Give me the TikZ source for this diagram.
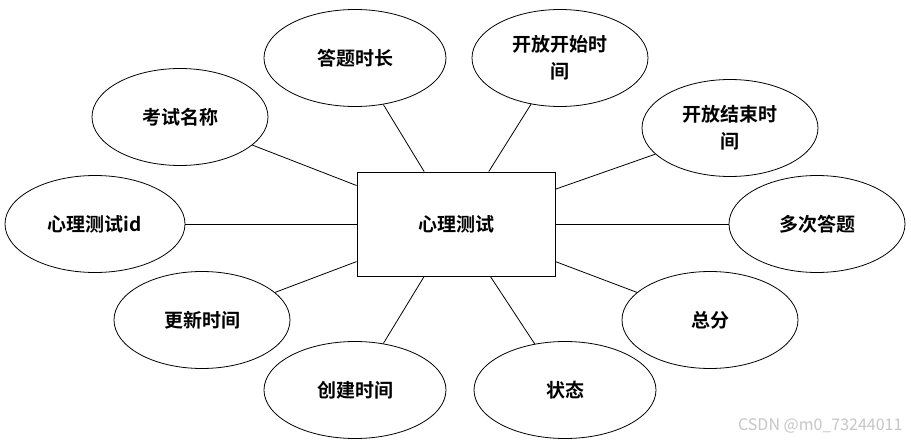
\documentclass[tikz,border=0pt]{standalone}
\usepackage{fontspec}
\setmainfont{Noto Sans CJK SC}[BoldFont={Noto Sans CJK SC Bold}]
\usetikzlibrary{shapes.geometric}
\begin{document}
\begin{tikzpicture}[x=1pt,y=-1pt,
  attr/.style={draw,thick,ellipse,minimum width=#1,minimum height=97pt,inner sep=0pt,align=center,font=\bfseries\fontsize{19}{27}\selectfont},
  attr/.default=176pt,
  ent/.style={draw,thick,minimum width=198pt,minimum height=104pt,font=\bfseries\fontsize{19}{24}\selectfont},
  conn/.style={thick}]
\useasboundingbox (0,0) rectangle (911,447);
\fill[white] (0,0) rectangle (911,447);
\node[ent] (c) at (456,224) {心理测试};
\node[attr] (a1) at (180,117) {考试名称};
\node[attr=182pt] (a2) at (355,58) {答题时长};
\node[attr] (a3) at (560,58) {开放开始时\\间};
\node[attr] (a4) at (730,128) {开放结束时\\间};
\node[attr=180pt] (a5) at (95,224) {心理测试id};
\node[attr] (a6) at (817,224) {多次答题};
\node[attr] (a7) at (202,320) {更新时间};
\node[attr] (a8) at (710,320) {总分};
\node[attr=182pt] (a9) at (355,390) {创建时间};
\node[attr=182pt] (a10) at (565,390) {状态};
\foreach \n in {a1,a2,a3,a4,a5,a6,a7,a8,a9,a10} \draw[conn] (\n) -- (c);
\node[text=gray!45,font=\fontsize{16}{18}\selectfont,anchor=east] (wm) at (906,426) {CSDN @m0\_73244011};
\end{tikzpicture}
\end{document}
